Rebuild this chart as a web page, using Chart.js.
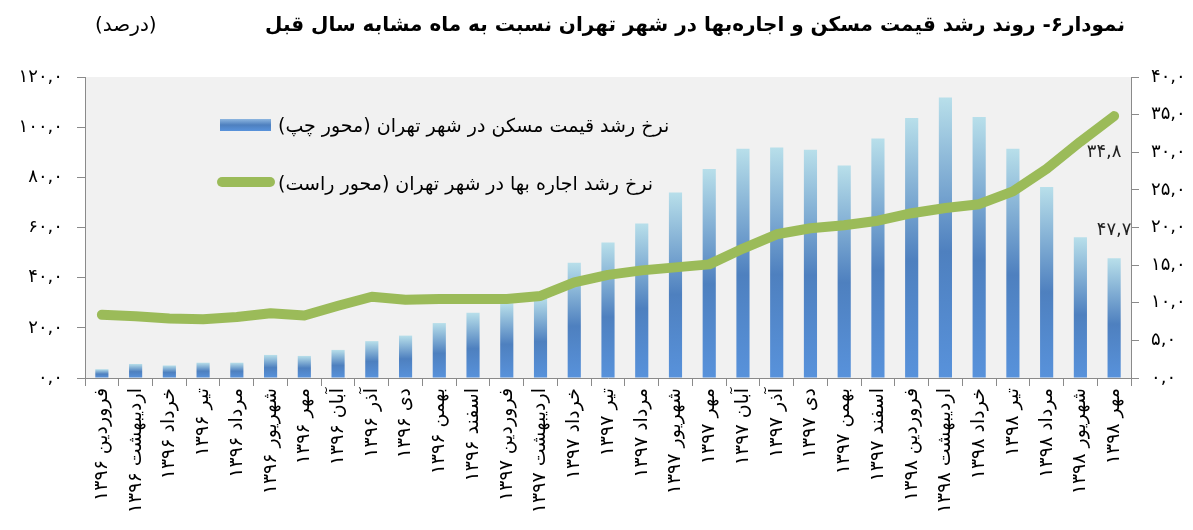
<!DOCTYPE html>
<html lang="fa">
<head>
<meta charset="utf-8">
<script src="https://cdn.jsdelivr.net/npm/chart.js@4.4.1/dist/chart.umd.min.js"></script>
<style>
  html, body { margin: 0; padding: 0; background: #ffffff; }
  canvas { display: block; }
</style>
</head>
<body>
<canvas id="c" width="1193" height="530"></canvas>
<script>
// ---- data ----
const categories = [
  'فروردین ۱۳۹۶','اردیبهشت ۱۳۹۶','خرداد ۱۳۹۶','تیر ۱۳۹۶','مرداد ۱۳۹۶','شهریور ۱۳۹۶',
  'مهر ۱۳۹۶','آبان ۱۳۹۶','آذر ۱۳۹۶','دی ۱۳۹۶','بهمن ۱۳۹۶','اسفند ۱۳۹۶',
  'فروردین ۱۳۹۷','اردیبهشت ۱۳۹۷','خرداد ۱۳۹۷','تیر ۱۳۹۷','مرداد ۱۳۹۷','شهریور ۱۳۹۷',
  'مهر ۱۳۹۷','آبان ۱۳۹۷','آذر ۱۳۹۷','دی ۱۳۹۷','بهمن ۱۳۹۷','اسفند ۱۳۹۷',
  'فروردین ۱۳۹۸','اردیبهشت ۱۳۹۸','خرداد ۱۳۹۸','تیر ۱۳۹۸','مرداد ۱۳۹۸','شهریور ۱۳۹۸','مهر ۱۳۹۸'
];
const housingGrowth = [3.5, 5.6, 5.0, 6.1, 6.1, 9.2, 8.8, 11.2, 14.7, 16.9, 21.9, 26.0,
  29.8, 32.2, 45.9, 54.0, 61.6, 74.0, 83.3, 91.4, 91.9, 91.0, 84.7, 95.5,
  103.7, 111.8, 104.1, 91.4, 76.1, 56.1, 47.7];
const rentGrowth = [8.4, 8.2, 7.9, 7.8, 8.1, 8.6, 8.3, 9.6, 10.8, 10.4, 10.5, 10.5,
  10.5, 10.9, 12.7, 13.7, 14.3, 14.7, 15.1, 17.2, 19.1, 19.9, 20.3, 20.9,
  21.9, 22.6, 23.1, 24.8, 27.8, 31.4, 34.8];
const leftTickLabels = ['۰,۰','۲۰,۰','۴۰,۰','۶۰,۰','۸۰,۰','۱۰۰,۰','۱۲۰,۰'];
const rightTickLabels = ['۰,۰','۵,۰','۱۰,۰','۱۵,۰','۲۰,۰','۲۵,۰','۳۰,۰','۳۵,۰','۴۰,۰'];
const seriesNames = ['نرخ رشد قیمت مسکن در شهر تهران (محور چپ)', 'نرخ رشد اجاره بها در شهر تهران (محور راست)'];
const titleText = 'نمودار۶- روند رشد قیمت مسکن و اجاره‌بها در شهر تهران نسبت به ماه مشابه سال قبل';
const unitText = '(درصد)';

// ---- helpers ----
const FONT = "'DejaVu Sans', sans-serif";
const faDigits = '۰۱۲۳۴۵۶۷۸۹';
const fa = n => n.toFixed(1).replace('.', ',').replace(/\d/g, d => faDigits[d]);

function barGradient(ctx, top, base) {
  const g = ctx.createLinearGradient(0, top, 0, base);
  g.addColorStop(0, '#b8dfea');
  g.addColorStop(0.55, '#4e80bf');
  g.addColorStop(1, '#5892db');
  return g;
}

const decorPlugin = {
  id: 'decor',
  beforeDraw(chart) {
    const { ctx, chartArea: a } = chart;
    ctx.save();
    ctx.fillStyle = '#f1f1f1';
    ctx.fillRect(a.left, a.top, a.right - a.left, a.bottom - a.top);
    ctx.restore();
  },
  afterDatasetsDraw(chart) {
    const { ctx } = chart;
    ctx.save();
    ctx.direction = 'rtl';
    // title
    ctx.fillStyle = '#000';
    ctx.textBaseline = 'middle';
    ctx.font = 'bold 20px ' + FONT;
    ctx.textAlign = 'right';
    ctx.fillText(titleText, 1125, 26);
    ctx.font = '20px ' + FONT;
    ctx.textAlign = 'left';
    ctx.fillText(unitText, 95, 26);

    // legend
    ctx.font = '19px ' + FONT;
    ctx.textAlign = 'left';
    const g = ctx.createLinearGradient(0, 119, 0, 131);
    g.addColorStop(0, '#8db6e0'); g.addColorStop(0.5, '#4e80bf'); g.addColorStop(1, '#5892db');
    ctx.fillStyle = g;
    ctx.fillRect(220, 119, 51, 12);
    ctx.fillStyle = '#000';
    ctx.fillText(seriesNames[0], 278, 127);
    ctx.strokeStyle = '#9bbb59';
    ctx.lineWidth = 10;
    ctx.lineCap = 'round';
    ctx.beginPath(); ctx.moveTo(222, 182); ctx.lineTo(270, 182); ctx.stroke();
    ctx.fillText(seriesNames[1], 278, 185);

    // data labels for last points
    ctx.font = '18px ' + FONT;
    ctx.textAlign = 'center';
    const barMeta = chart.getDatasetMeta(0);
    const lineMeta = chart.getDatasetMeta(1);
    const lb = barMeta.data[barMeta.data.length - 1];
    const ll = lineMeta.data[lineMeta.data.length - 1];
    ctx.fillStyle = '#222';
    ctx.fillText(fa(housingGrowth[housingGrowth.length - 1]), lb.x, lb.y - 28);
    ctx.fillText(fa(rentGrowth[rentGrowth.length - 1]), ll.x - 10, ll.y + 36);
    ctx.restore();
  }
};

new Chart(document.getElementById('c'), {
  data: {
    labels: categories,
    datasets: [
      {
        type: 'bar',
        label: seriesNames[0],
        data: housingGrowth,
        yAxisID: 'y',
        order: 2,
        categoryPercentage: 1,
        barPercentage: 0.39,
        backgroundColor: (c) => {
          const chart = c.chart;
          if (!chart.chartArea || c.type !== 'data') return '#4f81bd';
          const y = chart.scales.y;
          return barGradient(chart.ctx, y.getPixelForValue(c.raw), y.getPixelForValue(0));
        }
      },
      {
        type: 'line',
        label: seriesNames[1],
        data: rentGrowth,
        yAxisID: 'y2',
        order: 1,
        borderColor: '#9bbb59',
        borderWidth: 10,
        borderCapStyle: 'round',
        borderJoinStyle: 'round',
        pointRadius: 0,
        tension: 0,
        fill: false
      }
    ]
  },
  options: {
    responsive: false,
    animation: false,
    devicePixelRatio: 1,
    layout: { padding: { top: 77, left: 0, right: 0, bottom: 0 } },
    plugins: { legend: { display: false }, tooltip: { enabled: false }, title: { display: false } },
    scales: {
      x: {
        type: 'category',
        offset: true,
        grid: { offset: true, drawOnChartArea: false, drawTicks: true, tickLength: 8, color: '#8a8a8a' },
        border: { color: '#8a8a8a' },
        ticks: { autoSkip: false, maxRotation: 90, minRotation: 90, padding: 2, color: '#000', font: { size: 19, family: FONT } },
        afterFit: s => { s.height = 152; }
      },
      y: {
        position: 'left',
        min: 0, max: 120,
        grid: { drawOnChartArea: false, drawTicks: true, tickLength: 8, color: '#8a8a8a' },
        border: { color: '#8a8a8a' },
        ticks: { stepSize: 20, padding: 14, color: '#000', font: { size: 18, family: FONT },
          callback: (v, i) => leftTickLabels[i] },
        afterFit: s => { s.width = 85; }
      },
      y2: {
        position: 'right',
        min: 0, max: 40,
        grid: { drawOnChartArea: false, drawTicks: true, tickLength: 8, color: '#8a8a8a' },
        border: { color: '#8a8a8a' },
        ticks: { stepSize: 5, padding: 12, color: '#000', font: { size: 18, family: FONT },
          callback: (v, i) => rightTickLabels[i] },
        afterFit: s => { s.width = 62; }
      }
    }
  },
  plugins: [decorPlugin]
});
</script>
</body>
</html>
